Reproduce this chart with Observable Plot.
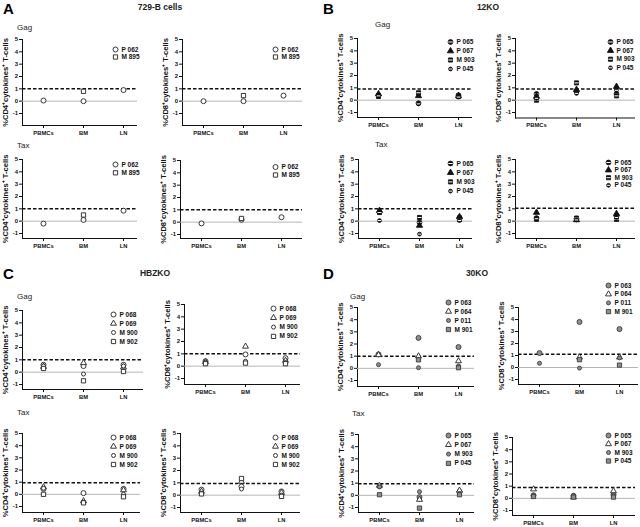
<!DOCTYPE html>
<html>
<head>
<meta charset="utf-8">
<script src="https://cdn.jsdelivr.net/npm/d3@7"></script>
<script src="https://cdn.jsdelivr.net/npm/@observablehq/plot@0.6"></script>
<style>
  body { margin: 0; background: #fff; font-family: "Liberation Sans", Arial, sans-serif; color: #111; }
  #fig { position: relative; width: 640px; height: 527px; overflow: hidden; }
  .abs { position: absolute; white-space: nowrap; line-height: 1; }
  .letter { font-size: 15px; font-weight: bold; color: #000; }
  .title { font-size: 8.5px; font-weight: bold; color: #222; transform: translate(-50%, -50%); }
  .ag { font-size: 8px; color: #222; transform: translateY(-50%); }
</style>
</head>
<body>
<div id="fig"></div>
<script>
const sites = ["PBMCs", "BM", "LN"];
const yTicks = [-1, 0, 1, 2, 3, 4, 5];
const panelLetters = ["A", "B", "C", "D"];
const panelTitles = ["729-B cells", "12KO", "HBZKO", "30KO"];
const antigens = ["Gag", "Tax"];
const cd4Label = "%CD4⁺cytokines⁺ T-cells";
const cd8Label = "%CD8⁺cytokines⁺ T-cells";

// A: 729-B cells
const ids729B = ["P 062", "M 895"];
const gagCD4_729B = [[0.05, 0.0, 0.9], [null, 0.8, null]];
const gagCD8_729B = [[0.0, 0.0, 0.45], [null, 0.45, null]];
const taxCD4_729B = [[-0.2, 0.1, 0.85], [null, 0.5, null]];
const taxCD8_729B = [[-0.1, 0.2, 0.4], [null, 0.3, null]];
const cut729B = [1.0, 1.0, 1.0, 1.0];

// B: 12KO
const ids12KO = ["P 065", "P 067", "M 903", "P 045"];
const gagCD4_12KO = [[0.4, -0.25, 0.4], [0.5, 0.35, 0.35], [0.3, 0.6, 0.3], [0.35, -0.3, 0.25]];
const gagCD8_12KO = [[0.5, 0.7, 0.5], [0.3, 0.85, 1.1], [0.0, 1.4, 0.35], [0.15, 0.55, 0.8]];
const taxCD4_12KO = [[0.75, -0.1, 0.3], [0.85, -0.35, 0.35], [0.7, 0.3, 0.15], [0.05, -1.05, 0.05]];
const taxCD8_12KO = [[0.25, 0.2, 0.4], [0.7, 0.1, 0.6], [0.15, 0.25, 0.15], [0.2, 0.1, 0.3]];
const cut12KO = [0.9, 0.9, 1.0, 1.05];

// C: HBZKO
const idsHBZKO = ["P 068", "P 069", "M 900", "M 902"];
const gagCD4_HBZKO = [[0.6, 0.5, 0.6], [0.45, 0.75, 0.4], [0.5, -0.15, 0.5], [0.3, -0.7, 0.05]];
const gagCD8_HBZKO = [[0.4, 0.95, 0.65], [0.35, 1.6, 0.45], [0.3, 0.4, 0.3], [0.2, 0.25, 0.2]];
const taxCD4_HBZKO = [[0.45, 0.1, 0.45], [0.6, -0.55, 0.35], [0.5, -0.65, 0.0], [0.0, -0.7, -0.2]];
const taxCD8_HBZKO = [[0.45, 0.7, 0.3], [0.3, 1.1, 0.2], [0.15, 0.5, 0.0], [0.1, 1.35, -0.1]];
const cutHBZKO = [1.0, 1.0, 0.95, 0.95];

// D: 30KO
const ids30KOgag = ["P 063", "P 064", "P 011", "M 901"];
const ids30KOtax = ["P 065", "P 067", "M 903", "P 045"];
const gagCD4_30KO = [[1.15, 2.5, 1.75], [1.1, 1.0, 0.6], [0.3, 0.05, 0.2], [null, 0.7, 0.05]];
const gagCD8_30KO = [[1.2, 3.8, 3.2], [null, 0.85, 0.85], [0.35, -0.05, 0.8], [null, 0.65, 0.2]];
const taxCD4_30KO = [[0.75, -0.15, 0.3], [0.8, -0.35, 0.4], [0.7, 0.3, 0.15], [0.05, -1.05, 0.05]];
const taxCD8_30KO = [[0.25, 0.2, 0.3], [0.75, 0.1, 0.6], [0.2, 0.25, 0.2], [0.15, 0.1, 0.1]];
const cut30KO = [1.0, 1.1, 0.95, 0.9];

// marker styles
const stripe = {draw(ctx, size) { const r = Math.sqrt(size / Math.PI); ctx.rect(-r * 0.9, -0.5, r * 1.8, 1.0); }};
const open = (symbol, r = 2.4) => ({symbol, r, fill: "white", stroke: "#222"});
const black = (symbol, r = 2.4, striped = false) => ({symbol, r, fill: "#111", stroke: "#111", striped});
const gray = (symbol, r = 2.4) => ({symbol, r, fill: "#8f8f8f", stroke: "#3a3a3a"});
const styleA = [open("circle", 2.5), open("square", 2.4)];
const styleB = [black("circle", 2.4, true), black("triangle", 2.3), black("square", 2.3, true), black("circle", 1.9, true)];
const styleC = [open("circle", 2.5), open("triangle", 2.2), open("circle", 2.0), open("square", 2.4)];
const styleD = [gray("circle", 2.5), open("triangle", 2.2), gray("circle", 2.0), gray("square", 2.4)];

// layout of the 16 small plots
const subplots = [
  {vals: gagCD4_729B, ids: ids729B, cut: cut729B[0], label: cd4Label, style: styleA, ax: 22, xr: 137, y5: 39, ym1: 113, yb: 125, lx: 115, ly: 49, lh: 7.5},
  {vals: gagCD8_729B, ids: ids729B, cut: cut729B[1], label: cd8Label, style: styleA, ax: 182, xr: 302, y5: 39, ym1: 113, yb: 125, lx: 275, ly: 49, lh: 7.5},
  {vals: taxCD4_729B, ids: ids729B, cut: cut729B[2], label: cd4Label, style: styleA, ax: 22, xr: 137, y5: 159, ym1: 233, yb: 238, lx: 115, ly: 164, lh: 8.3},
  {vals: taxCD8_729B, ids: ids729B, cut: cut729B[3], label: cd8Label, style: styleA, ax: 180, xr: 302, y5: 160, ym1: 234, yb: 238, lx: 275, ly: 166.5, lh: 8},
  {vals: gagCD4_12KO, ids: ids12KO, cut: cut12KO[0], label: cd4Label, style: styleB, ax: 357, xr: 472, y5: 38, ym1: 112, yb: 117, lx: 450, ly: 41.5, lh: 9},
  {vals: gagCD8_12KO, ids: ids12KO, cut: cut12KO[1], label: cd8Label, style: styleB, ax: 515, xr: 635, y5: 37.5, ym1: 111.5, yb: 117, lx: 610, ly: 41, lh: 8.6},
  {vals: taxCD4_12KO, ids: ids12KO, cut: cut12KO[2], label: cd4Label, style: styleB, ax: 358, xr: 472, y5: 159, ym1: 233, yb: 238, lx: 450, ly: 163, lh: 9.2},
  {vals: taxCD8_12KO, ids: ids12KO, cut: cut12KO[3], label: cd8Label, style: styleB, ax: 515, xr: 635, y5: 159, ym1: 233, yb: 238, lx: 608, ly: 162, lh: 7.6},
  {vals: gagCD4_HBZKO, ids: idsHBZKO, cut: cutHBZKO[0], label: cd4Label, style: styleC, ax: 22, xr: 143, y5: 310, ym1: 384, yb: 389, lx: 113, ly: 314, lh: 9},
  {vals: gagCD8_HBZKO, ids: idsHBZKO, cut: cutHBZKO[1], label: cd8Label, style: styleC, ax: 184, xr: 300, y5: 304, ym1: 378, yb: 384, lx: 273, ly: 308, lh: 9.3},
  {vals: taxCD4_HBZKO, ids: idsHBZKO, cut: cutHBZKO[2], label: cd4Label, style: styleC, ax: 22, xr: 140, y5: 433, ym1: 506, yb: 512, lx: 113, ly: 437, lh: 9},
  {vals: taxCD8_HBZKO, ids: idsHBZKO, cut: cutHBZKO[3], label: cd8Label, style: styleC, ax: 180, xr: 300, y5: 433, ym1: 507, yb: 512, lx: 275, ly: 437, lh: 9},
  {vals: gagCD4_30KO, ids: ids30KOgag, cut: cut30KO[0], label: cd4Label, style: styleD, ax: 357, xr: 474, y5: 307, ym1: 380, yb: 386, lx: 448, ly: 302, lh: 9},
  {vals: gagCD8_30KO, ids: ids30KOgag, cut: cut30KO[1], label: cd8Label, style: styleD, ax: 518, xr: 638, y5: 307, ym1: 379, yb: 384, lx: 608, ly: 285, lh: 8.7},
  {vals: taxCD4_30KO, ids: ids30KOtax, cut: cut30KO[2], label: cd4Label, style: styleD, ax: 358, xr: 474, y5: 434, ym1: 507, yb: 512, lx: 448, ly: 435, lh: 9.3},
  {vals: taxCD8_30KO, ids: ids30KOtax, cut: cut30KO[3], label: cd8Label, style: styleD, ax: 512, xr: 635, y5: 437, ym1: 510, yb: 515, lx: 608, ly: 435, lh: 8.5}
];

const fig = document.getElementById("fig");

function addText(cls, text, x, y) {
  const el = document.createElement("div");
  el.className = "abs " + cls;
  el.textContent = text;
  el.style.left = x + "px";
  el.style.top = y + "px";
  fig.appendChild(el);
}

function subplot(p) {
  const w = p.xr - p.ax;
  const k = (p.ym1 - p.y5) / 6;
  const ymin = -1 - (p.yb - p.ym1) / k;
  const mL = 28, mR = 2, mB = 14, mT = Math.max(4, p.y5 - p.ly + 6);
  const rows = p.ids.flatMap((id, s) => sites.map((site, j) => ({id, s, site, v: p.vals[s][j]})))
    .filter(d => d.v != null);

  const marks = [
    Plot.ruleY([0], {stroke: "#b5b5b5", strokeWidth: 1}),
    Plot.ruleY([p.cut], {stroke: "#111", strokeWidth: 1.5, strokeDasharray: "3.5,2"}),
    Plot.ruleY([ymin], {stroke: "#111", strokeWidth: 1}),
    Plot.axisX({tickSize: 3, tickPadding: 2, fontSize: 5.8, fontWeight: "bold", label: null}),
    Plot.text([p.label], {frameAnchor: "left", rotate: -90, dx: -17, text: d => d, textAnchor: "middle", lineAnchor: "middle", fontSize: 7.6, fontWeight: "bold"})
  ];
  p.style.forEach((st, s) => {
    const d = rows.filter(r => r.s === s);
    const sym = {symbol: st.symbol, r: st.r, fill: st.fill, stroke: st.stroke, strokeWidth: 0.9};
    marks.push(Plot.dot(d, {x: "site", y: "v", ...sym}));
    if (st.striped) marks.push(Plot.dot(d, {x: "site", y: "v", symbol: stripe, r: st.r, fill: "white"}));
    // legend entry
    const dx = p.lx - p.ax, dy = p.ly - p.y5 + s * p.lh;
    marks.push(Plot.dot([p.ids[s]], {frameAnchor: "top-left", dx, dy, ...sym}));
    if (st.striped) marks.push(Plot.dot([p.ids[s]], {frameAnchor: "top-left", dx, dy, symbol: stripe, r: st.r, fill: "white"}));
    marks.push(Plot.text([p.ids[s]], {frameAnchor: "top-left", dx: dx + 6, dy, text: d => d, textAnchor: "start", lineAnchor: "middle", fontSize: 6.5, fontWeight: "bold"}));
  });

  const chart = Plot.plot({
    width: mL + w + mR,
    height: mT + (p.yb - p.y5) + mB,
    marginLeft: mL,
    marginRight: mR,
    marginTop: mT,
    marginBottom: mB,
    x: {type: "point", domain: sites, padding: (w - 80) / 80, align: Math.min(1, 21 / (w - 80))},
    y: {domain: [ymin, 5], ticks: yTicks, line: true, tickSize: 3, tickPadding: 1.5, label: null, tickFormat: d => String(d)},
    style: {fontSize: "6px", fontWeight: "bold", fontFamily: "Liberation Sans, Arial, sans-serif", background: "transparent", overflow: "visible", color: "#111", maxWidth: "none"},
    marks
  });
  const holder = document.createElement("div");
  holder.className = "abs";
  holder.style.left = (p.ax - mL) + "px";
  holder.style.top = (p.y5 - mT) + "px";
  holder.appendChild(chart);
  fig.appendChild(holder);
}

subplots.forEach(subplot);

// panel letters, titles and antigen labels
[[3, 1], [323, 1], [3, 266], [323, 266]].forEach(([x, y], i) => addText("letter", panelLetters[i], x, y));
[[160, 7], [488, 7], [155, 273], [477, 273]].forEach(([x, y], i) => addText("title", panelTitles[i], x, y));
[[17, 28, 0], [17, 146, 1], [375, 25, 0], [375, 145, 1], [17, 297, 0], [17, 413, 1], [350, 297, 0], [352, 414, 1]]
  .forEach(([x, y, a]) => addText("ag", antigens[a], x, y));
</script>
</body>
</html>
